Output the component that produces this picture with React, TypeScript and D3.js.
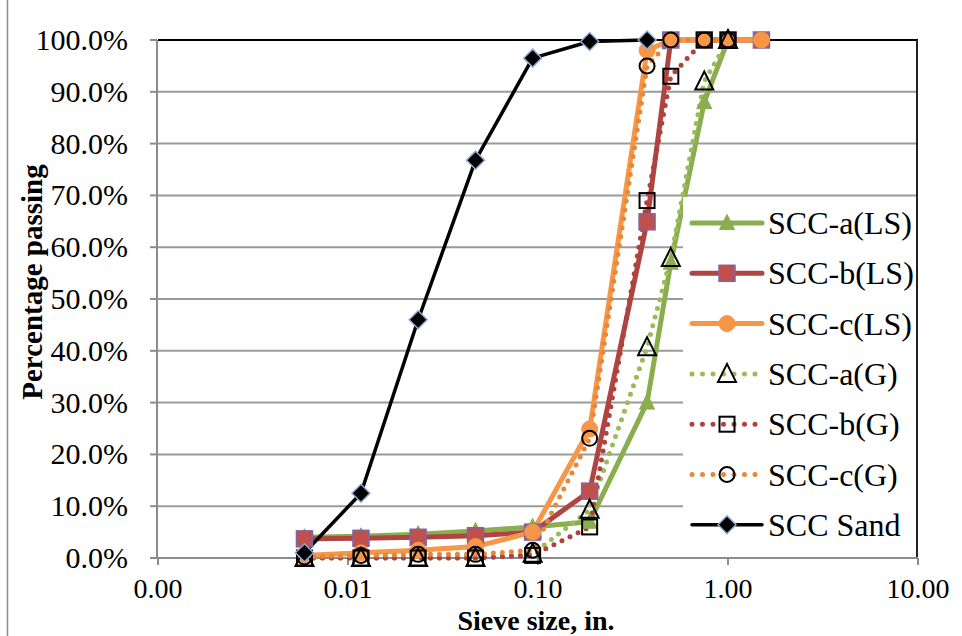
import React from "react";
import * as d3 from "d3";

const W = 962;
const H = 636;

const sieveLS = [0.0059, 0.0117, 0.0234, 0.0469, 0.0937, 0.187, 0.375, 0.5, 0.75, 1.0, 1.5];
const sieveG = [0.0059, 0.0117, 0.0234, 0.0469, 0.0937, 0.187, 0.375, 0.5, 0.75, 1.0];
const sieveSand = [0.0059, 0.0117, 0.0234, 0.0469, 0.0937, 0.187, 0.375];

const aLS = [4.0, 4.2, 4.6, 5.2, 6.0, 7.0, 30.0, 57.0, 88.0, 100, 100];
const bLS = [3.7, 3.8, 4.0, 4.3, 5.0, 12.9, 64.9, 100, 100, 100, 100];
const cLS = [0.5, 1.0, 1.5, 2.2, 5.0, 24.9, 98.0, 100, 100, 100, 100];
const aG = [0.0, 0.0, 0.0, 0.0, 0.8, 9.3, 40.7, 57.9, 92.0, 100];
const bG = [0.0, 0.0, 0.0, 0.0, 0.5, 6.0, 69.0, 93.0, 100, 100];
const cG = [0.2, 0.5, 0.7, 0.7, 1.5, 23.1, 95.0, 100, 100, 100];
const sand = [1.0, 12.5, 46.0, 76.8, 96.5, 99.7, 100];

const yTicks = [0, 10, 20, 30, 40, 50, 60, 70, 80, 90, 100];
const xTicks = [0.001, 0.01, 0.1, 1, 10];

type Marker = "tri" | "sq" | "circ" | "diamond";
interface Series {
  name: string;
  xs: number[];
  ys: number[];
  color: string;
  dotted: boolean;
  width: number;
  marker: Marker;
  mFill: string;
  mStroke: string;
  mStrokeW: number;
}

const series: Series[] = [
  { name: "SCC-a(LS)", xs: sieveLS, ys: aLS, color: "#8AAD4E", dotted: false, width: 5, marker: "tri", mFill: "#8AAD4E", mStroke: "#8AAD4E", mStrokeW: 1 },
  { name: "SCC-b(LS)", xs: sieveLS, ys: bLS, color: "#AE4542", dotted: false, width: 5, marker: "sq", mFill: "#C0504D", mStroke: "#7E66A3", mStrokeW: 1.5 },
  { name: "SCC-c(LS)", xs: sieveLS, ys: cLS, color: "#F79646", dotted: false, width: 5, marker: "circ", mFill: "#F79646", mStroke: "#F79646", mStrokeW: 1 },
  { name: "SCC-a(G)", xs: sieveG, ys: aG, color: "#9BBB59", dotted: true, width: 5, marker: "tri", mFill: "none", mStroke: "#000", mStrokeW: 2 },
  { name: "SCC-b(G)", xs: sieveG, ys: bG, color: "#B0413E", dotted: true, width: 5, marker: "sq", mFill: "none", mStroke: "#000", mStrokeW: 2 },
  { name: "SCC-c(G)", xs: sieveG, ys: cG, color: "#E6873A", dotted: true, width: 5, marker: "circ", mFill: "none", mStroke: "#000", mStrokeW: 2 },
  { name: "SCC Sand", xs: sieveSand, ys: sand, color: "#000000", dotted: false, width: 3.5, marker: "diamond", mFill: "#000", mStroke: "#8EA9D3", mStrokeW: 1.5 },
];

const x = d3.scaleLog().domain([0.001, 10]).range([158, 918]);
const y = d3.scaleLinear().domain([0, 100]).range([558, 40]);

function MarkerShape({ s, cx, cy }: { s: Series; cx: number; cy: number }) {
  const common = { fill: s.mFill, stroke: s.mStroke, strokeWidth: s.mStrokeW };
  if (s.marker === "tri") {
    const h = s.mFill === "none" ? 18 : 15;
    const w = s.mFill === "none" ? 18 : 15;
    const p = `M${cx},${cy - h / 2 - 1} L${cx + w / 2},${cy + h / 2 - 1} L${cx - w / 2},${cy + h / 2 - 1} Z`;
    return <path d={p} {...common} />;
  }
  if (s.marker === "sq") {
    const a = s.mFill === "none" ? 15 : 16;
    return <rect x={cx - a / 2} y={cy - a / 2} width={a} height={a} {...common} />;
  }
  if (s.marker === "circ") {
    return <circle cx={cx} cy={cy} r={s.mFill === "none" ? 7.5 : 8} {...common} />;
  }
  const r = 9;
  const p = `M${cx},${cy - r} L${cx + r},${cy} L${cx},${cy + r} L${cx - r},${cy} Z`;
  return <path d={p} {...common} />;
}

export default function App() {
  const line = d3
    .line<[number, number]>()
    .x((d) => x(d[0]))
    .y((d) => y(d[1]));

  const font = "'Liberation Serif', 'Times New Roman', serif";
  const legX = 683;
  const legY0 = 223;
  const legStep = 50.3;

  return (
    <svg width={W} height={H} style={{ position: "absolute", left: 0, top: 0, background: "#fff" }} fontFamily={font}>
      <rect x={0} y={0} width={W} height={H} fill="#fff" />
      <line x1={7.5} y1={0} x2={7.5} y2={H} stroke="#8c8c8c" strokeWidth={1.5} />

      {/* gridlines */}
      {yTicks.slice(1, -1).map((t) => (
        <line key={t} x1={158} x2={918} y1={y(t)} y2={y(t)} stroke="#9a9a9a" strokeWidth={2} />
      ))}
      <line x1={158} x2={918} y1={y(100)} y2={y(100)} stroke="#000" strokeWidth={2} />
      <line x1={917} x2={917} y1={y(100)} y2={y(0)} stroke="#222" strokeWidth={2} />

      {/* axes */}
      <line x1={157} x2={157} y1={y(100)} y2={y(0)} stroke="#8c8c8c" strokeWidth={2} />
      {yTicks.map((t) => (
        <line key={t} x1={150} x2={157} y1={y(t)} y2={y(t)} stroke="#8c8c8c" strokeWidth={2} />
      ))}
      <line x1={157} x2={918} y1={y(0)} y2={y(0)} stroke="#8c8c8c" strokeWidth={2} />
      {xTicks.map((t) => (
        <line key={t} x1={x(t)} x2={x(t)} y1={y(0)} y2={y(0) + 7} stroke="#8c8c8c" strokeWidth={2} />
      ))}

      {/* tick labels */}
      {yTicks.map((t) => (
        <text key={t} x={128} y={y(t) + 10} fontSize={30} textAnchor="end" fill="#000">
          {d3.format(".1f")(t) + "%"}
        </text>
      ))}
      {xTicks.map((t) => (
        <text key={t} x={x(t)} y={598} fontSize={28} textAnchor="middle" fill="#000">
          {d3.format(".2f")(t)}
        </text>
      ))}

      {/* titles */}
      <text x={536} y={629.5} fontSize={28} fontWeight="bold" textAnchor="middle">
        Sieve size, in.
      </text>
      <text transform={`translate(42,282) rotate(-90)`} fontSize={29} fontWeight="bold" textAnchor="middle">
        Percentage passing
      </text>

      {/* series lines */}
      {series.map((s) => (
        <path
          key={s.name + "l"}
          d={line(s.xs.map((v, i) => [v, s.ys[i]] as [number, number])) || ""}
          fill="none"
          stroke={s.color}
          strokeWidth={s.width}
          strokeLinecap="round"
          strokeLinejoin="round"
          strokeDasharray={s.dotted ? "0 9" : undefined}
        />
      ))}
      {/* series markers */}
      {series.map((s) => (
        <g key={s.name + "m"}>
          {s.xs.map((v, i) => (
            <MarkerShape key={i} s={s} cx={x(v)} cy={y(s.ys[i])} />
          ))}
        </g>
      ))}

      {/* legend */}
      <rect x={legX} y={197} width={916 - legX} height={358} fill="#fff" />
      {series.map((s, i) => {
        const cy = legY0 + i * legStep;
        return (
          <g key={s.name + "leg"}>
            <line
              x1={692}
              x2={762}
              y1={cy}
              y2={cy}
              stroke={s.color}
              strokeWidth={s.width}
              strokeLinecap="round"
              strokeDasharray={s.dotted ? "0 10.5" : undefined}
            />
            <MarkerShape s={s} cx={727} cy={cy} />
            <text x={768} y={cy + 11} fontSize={32} fill="#000">
              {s.name}
            </text>
          </g>
        );
      })}
    </svg>
  );
}
